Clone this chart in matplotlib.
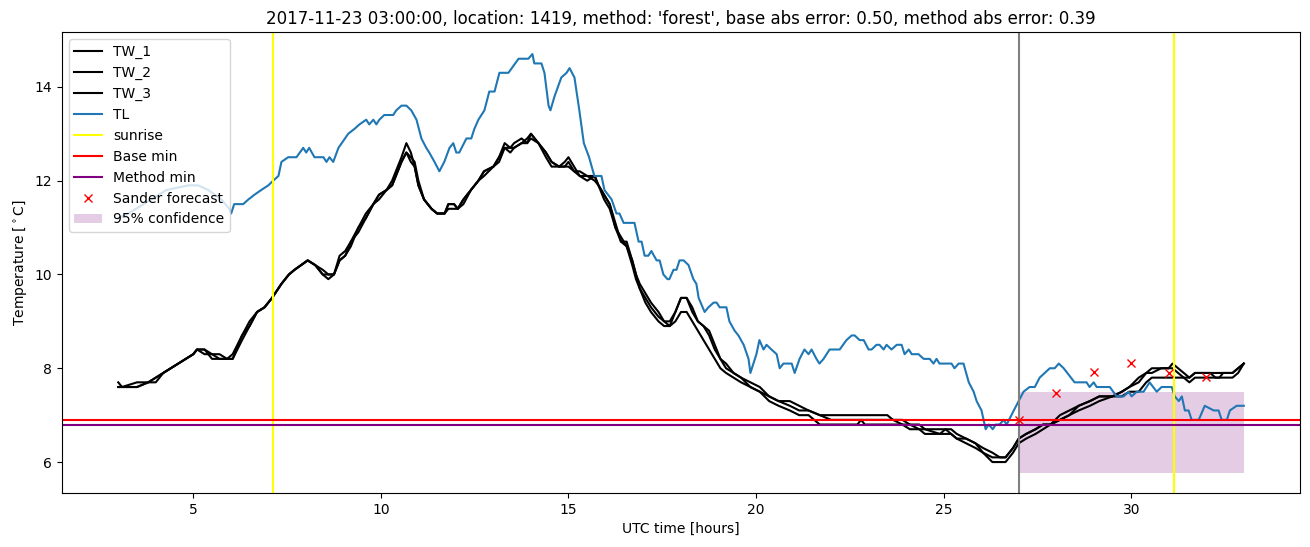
import numpy as np
import matplotlib
matplotlib.use("Agg")
import matplotlib.pyplot as plt

# TL (air temperature), (hours, degC)
tl_t = [3.0, 3.27, 3.88, 4.28, 4.87, 5.13, 5.4, 5.75, 5.96, 6.01, 6.09, 6.33, 6.47, 6.63,
        6.81, 7.0, 7.13, 7.27, 7.35, 7.53, 7.75, 7.93, 8.01, 8.09, 8.23, 8.47, 8.55, 8.63,
        8.73, 8.87, 9.13, 9.29, 9.43, 9.61, 9.69, 9.8, 9.88, 9.96, 10.09, 10.33, 10.41,
        10.55, 10.68, 10.81, 10.95, 11.08, 11.21, 11.29, 11.43, 11.56, 11.69, 11.83, 11.93,
        12.01, 12.09, 12.28, 12.41, 12.49, 12.6, 12.76, 12.89, 13.03, 13.16, 13.4, 13.67,
        13.93, 14.04, 14.09, 14.28, 14.36, 14.47, 14.52, 14.63, 14.81, 14.95, 15.03, 15.16,
        15.29, 15.41, 15.55, 15.69, 15.88, 15.96, 16.15, 16.28, 16.36, 16.47, 16.76, 16.87,
        16.95, 17.03, 17.13, 17.21, 17.35, 17.43, 17.53, 17.64, 17.69, 17.8, 17.88, 17.96,
        18.07, 18.2, 18.33, 18.41, 18.47, 18.63, 18.73, 18.87, 18.95, 19.03, 19.21, 19.29,
        19.43, 19.53, 19.67, 19.8, 19.85, 20.01, 20.09, 20.2, 20.28, 20.41, 20.55, 20.63,
        20.73, 20.95, 21.03, 21.16, 21.29, 21.4, 21.48, 21.61, 21.69, 21.8, 21.96, 22.23,
        22.41, 22.55, 22.63, 22.76, 22.87, 23.0, 23.08, 23.21, 23.29, 23.4, 23.48, 23.61,
        23.75, 23.88, 23.96, 24.07, 24.15, 24.33, 24.47, 24.63, 24.73, 24.81, 24.89, 25.21,
        25.29, 25.4, 25.53, 25.67, 25.8, 25.88, 26.01, 26.12, 26.2, 26.31, 26.39, 26.49,
        26.6, 26.68, 26.87, 27.0, 27.13, 27.29, 27.43, 27.56, 27.83, 27.96, 28.07, 28.2,
        28.49, 28.81, 28.89, 29.0, 29.08, 29.43, 29.61, 29.8, 29.93, 30.01, 30.15, 30.33,
        30.49, 30.68, 30.81, 31.08, 31.16, 31.27, 31.35, 31.43, 31.53, 31.61, 31.8, 31.96,
        32.2, 32.33, 32.41, 32.55, 32.63, 32.81, 33.0]
tl_v = [11.2, 11.3, 11.6, 11.8, 11.9, 11.9, 11.8, 11.6, 11.4, 11.3, 11.5, 11.5, 11.6, 11.7,
        11.8, 11.9, 12.0, 12.1, 12.4, 12.5, 12.5, 12.7, 12.6, 12.7, 12.5, 12.5, 12.4, 12.5,
        12.4, 12.7, 13.0, 13.1, 13.2, 13.3, 13.2, 13.3, 13.2, 13.3, 13.4, 13.4, 13.5,
        13.6, 13.6, 13.5, 13.3, 12.9, 12.7, 12.6, 12.4, 12.2, 12.4, 12.7, 12.8,
        12.6, 12.6, 12.9, 12.9, 13.1, 13.3, 13.5, 13.9, 13.9, 14.3, 14.3, 14.6,
        14.6, 14.7, 14.5, 14.5, 14.3, 13.6, 13.5, 13.8, 14.2, 14.3, 14.4, 14.2,
        13.5, 12.8, 12.5, 12.1, 12.1, 11.8, 11.6, 11.3, 11.3, 11.1, 11.1, 10.7,
        10.7, 10.4, 10.4, 10.5, 10.3, 10.3, 10.0, 9.9, 9.9, 10.1, 10.1, 10.3,
        10.3, 10.2, 9.9, 9.8, 9.5, 9.2, 9.3, 9.4, 9.4, 9.3, 9.3, 9.0,
        8.8, 8.7, 8.5, 8.2, 7.9, 8.3, 8.6, 8.4, 8.5, 8.4, 8.3, 8.0,
        8.1, 8.1, 7.9, 8.2, 8.4, 8.3, 8.4, 8.2, 8.1, 8.2, 8.4, 8.4,
        8.6, 8.7, 8.7, 8.6, 8.6, 8.4, 8.4, 8.5, 8.5, 8.4, 8.5, 8.4,
        8.5, 8.5, 8.3, 8.4, 8.3, 8.3, 8.2, 8.2, 8.1, 8.2, 8.1, 8.1,
        8.0, 8.1, 8.1, 7.7, 7.5, 7.3, 7.1, 6.7, 6.8, 6.7, 6.8, 6.8,
        6.9, 6.8, 7.1, 7.3, 7.5, 7.6, 7.6, 7.8, 8.0, 8.0, 8.1, 8.0,
        7.7, 7.7, 7.6, 7.7, 7.6, 7.6, 7.4, 7.4, 7.5, 7.4, 7.5, 7.5,
        7.7, 7.5, 7.6, 7.6, 7.4, 7.3, 7.4, 7.1, 7.1, 6.9, 6.9, 7.2,
        7.1, 7.1, 6.9, 6.9, 7.1, 7.2, 7.2]

# TW_1..TW_3 (road sensors), shared time points
tw_t = [3.0, 3.1, 3.5, 3.8, 4.0, 4.2, 4.4, 4.6, 4.8, 5.0, 5.1, 5.3, 5.5, 5.7, 5.9, 6.05,
        6.3, 6.5, 6.7, 6.9, 7.1, 7.35, 7.55, 7.7, 8.05, 8.25, 8.45, 8.6, 8.75, 8.9, 9.05,
        9.2, 9.4, 9.6, 9.8, 9.95, 10.15, 10.3, 10.45, 10.55, 10.68, 10.8, 10.9, 11.0,
        11.15, 11.35, 11.5, 11.7, 11.8, 11.95, 12.05, 12.2, 12.4, 12.6, 12.75, 13.0,
        13.15, 13.3, 13.45, 13.55, 13.75, 13.9, 14.0, 14.2, 14.4, 14.55, 14.75, 14.9,
        15.0, 15.15, 15.3, 15.5, 15.7, 15.8, 15.95, 16.1, 16.25, 16.4, 16.55, 16.7, 16.8,
        16.9, 17.05, 17.2, 17.4, 17.55, 17.7, 17.85, 18.0, 18.15, 18.3, 18.45, 18.6,
        18.75, 18.9, 19.05, 19.2, 19.4, 19.6, 19.85, 20.1, 20.35, 20.6, 20.9, 21.15,
        21.4, 21.7, 22.0, 22.7, 22.8, 22.9, 23.5, 23.65, 23.9, 24.1, 24.35, 24.5, 24.9,
        25.05, 25.2, 25.35, 25.6, 25.85, 26.05, 26.3, 26.5, 26.65, 26.85, 27.0, 27.2,
        27.45, 27.65, 27.85, 28.1, 28.35, 28.6, 28.9, 29.15, 29.5, 29.75, 29.95, 30.2,
        30.4, 30.55, 30.8, 31.0, 31.1, 31.25, 31.4, 31.55, 31.7, 32.1, 32.25, 32.35,
        32.45, 32.7, 32.85, 33.0]
tw1_v = [7.7, 7.6, 7.6, 7.7, 7.8, 7.9, 8.0, 8.1, 8.2, 8.3, 8.4, 8.4, 8.3, 8.2, 8.2, 8.2,
         8.7, 9.0, 9.2, 9.3, 9.5, 9.8, 10.0, 10.1, 10.3, 10.2, 10.0, 10.0, 10.0, 10.4, 10.5,
         10.7, 11.0, 11.3, 11.5, 11.7, 11.8, 12.0, 12.3, 12.5, 12.8, 12.6, 12.3, 11.9,
         11.6, 11.4, 11.3, 11.3, 11.5, 11.5, 11.4, 11.6, 11.8, 12.0, 12.2, 12.3,
         12.5, 12.8, 12.7, 12.8, 12.9, 12.8, 13.0, 12.8, 12.6, 12.4, 12.3, 12.4,
         12.5, 12.3, 12.1, 12.1, 12.1, 11.9, 11.7, 11.5, 11.1, 10.7, 10.7, 10.3, 10.0,
         9.7, 9.5, 9.3, 9.1, 9.0, 9.0, 9.2, 9.5, 9.5, 9.3, 9.0, 8.9,
         8.8, 8.5, 8.2, 8.1, 7.9, 7.8, 7.7, 7.6, 7.4, 7.3, 7.3, 7.2,
         7.1, 7.0, 7.0, 7.0, 7.0, 7.0, 7.0, 6.9, 6.8, 6.8, 6.8, 6.7, 6.7,
         6.7, 6.7, 6.6, 6.5, 6.4, 6.3, 6.2, 6.1, 6.1, 6.3, 6.5, 6.6,
         6.7, 6.8, 6.8, 7.0, 7.1, 7.2, 7.3, 7.4, 7.4, 7.5, 7.6, 7.8,
         7.9, 8.0, 8.0, 8.0, 8.1, 8.0, 7.9, 7.8, 7.9, 7.9, 7.8, 7.8,
         7.9, 7.9, 8.0, 8.1]
tw2_v = [7.6, 7.6, 7.7, 7.7, 7.8, 7.9, 8.0, 8.1, 8.2, 8.3, 8.4, 8.3, 8.3, 8.3, 8.2, 8.3,
         8.7, 8.9, 9.2, 9.3, 9.5, 9.8, 10.0, 10.1, 10.3, 10.2, 10.1, 10.0, 10.0, 10.3, 10.4,
         10.7, 10.9, 11.2, 11.5, 11.6, 11.8, 11.9, 12.2, 12.4, 12.6, 12.5, 12.4, 12.0,
         11.6, 11.4, 11.3, 11.3, 11.4, 11.4, 11.4, 11.6, 11.8, 12.0, 12.2, 12.3,
         12.5, 12.7, 12.6, 12.7, 12.8, 12.9, 13.0, 12.8, 12.6, 12.4, 12.3, 12.3,
         12.4, 12.2, 12.2, 12.1, 12.0, 11.9, 11.7, 11.5, 11.0, 10.8, 10.6, 10.3, 10.0,
         9.8, 9.6, 9.4, 9.2, 9.0, 8.9, 9.2, 9.5, 9.5, 9.2, 9.0, 8.9,
         8.7, 8.4, 8.2, 8.0, 7.9, 7.8, 7.6, 7.5, 7.4, 7.3, 7.2, 7.1,
         7.1, 7.0, 6.9, 6.9, 6.9, 6.9, 6.9, 6.9, 6.9, 6.8, 6.7, 6.7, 6.6,
         6.7, 6.6, 6.5, 6.5, 6.4, 6.2, 6.1, 6.1, 6.1, 6.3, 6.5, 6.6,
         6.7, 6.8, 6.8, 6.9, 7.0, 7.2, 7.3, 7.4, 7.4, 7.5, 7.6, 7.7,
         7.9, 7.9, 8.0, 8.0, 8.0, 7.9, 7.8, 7.8, 7.9, 7.9, 7.9, 7.9,
         7.9, 7.9, 8.0, 8.1]
tw3_v = [7.6, 7.6, 7.6, 7.7, 7.7, 7.9, 8.0, 8.1, 8.2, 8.3, 8.4, 8.4, 8.2, 8.2, 8.2, 8.2,
         8.6, 8.9, 9.2, 9.3, 9.5, 9.8, 10.0, 10.1, 10.3, 10.2, 10.0, 9.9, 10.0, 10.3, 10.4,
         10.6, 11.0, 11.2, 11.5, 11.7, 11.8, 11.9, 12.2, 12.4, 12.6, 12.4, 12.3, 11.9,
         11.6, 11.4, 11.3, 11.3, 11.5, 11.5, 11.4, 11.5, 11.8, 12.0, 12.1, 12.3,
         12.4, 12.7, 12.7, 12.7, 12.8, 12.8, 12.9, 12.8, 12.5, 12.3, 12.3, 12.3,
         12.3, 12.2, 12.1, 12.0, 12.1, 11.9, 11.6, 11.4, 11.0, 10.7, 10.6, 10.2, 9.9,
         9.7, 9.4, 9.2, 9.0, 8.9, 8.9, 9.0, 9.2, 9.2, 9.0, 8.8, 8.6,
         8.4, 8.2, 8.0, 7.9, 7.8, 7.7, 7.6, 7.5, 7.3, 7.2, 7.1, 7.0,
         7.0, 6.8, 6.8, 6.8, 6.9, 6.8, 6.8, 6.8, 6.8, 6.7, 6.7, 6.6, 6.6,
         6.6, 6.6, 6.5, 6.4, 6.3, 6.2, 6.0, 6.0, 6.0, 6.2, 6.4, 6.5,
         6.6, 6.7, 6.8, 6.9, 7.0, 7.1, 7.2, 7.3, 7.4, 7.4, 7.5, 7.5,
         7.7, 7.8, 7.8, 7.8, 7.8, 7.8, 7.8, 7.7, 7.8, 7.8, 7.8, 7.8,
         7.8, 7.8, 7.9, 8.1]

sunrise = [7.12, 31.13]
forecast_time = 27.0
base_min = 6.9
method_min = 6.8

sander_t = [27, 28, 29, 30, 31, 32]
sander_v = [6.9, 7.47, 7.93, 8.11, 7.9, 7.82]
conf_t = [27, 33]
conf_lo = 5.77
conf_hi = 7.5

title = ("2017-11-23 03:00:00, location: 1419, method: 'forest', "
         "base abs error: 0.50, method abs error: 0.39")

fig, ax = plt.subplots(figsize=(13.1, 5.47), dpi=100)
fig.subplots_adjust(left=0.0473, right=0.9924, bottom=0.0987, top=0.9415)

ax.plot(tw_t, tw1_v, color='black', label='TW_1')
ax.plot(tw_t, tw2_v, color='black', label='TW_2')
ax.plot(tw_t, tw3_v, color='black', label='TW_3')
ax.plot(tl_t, tl_v, color='#1f77b4', label='TL')

for i, s in enumerate(sunrise):
    ax.axvline(s, color='yellow', label='sunrise' if i == 0 else None)
ax.axvline(forecast_time, color='gray')
ax.axhline(base_min, color='red', label='Base min')
ax.axhline(method_min, color='purple', label='Method min')
ax.plot(sander_t, sander_v, 'x', color='red', label='Sander forecast')
ax.fill_between(conf_t, conf_lo, conf_hi, color='purple', alpha=0.2,
                linewidth=0, label='95% confidence')

ax.set_xlim(1.5, 34.5)
ax.set_ylim(5.34, 15.17)
ax.set_title(title)
ax.set_xlabel('UTC time [hours]')
ax.set_ylabel(r'Temperature [$^\circ$C]')
ax.legend(loc='upper left')

fig.savefig('out.png', dpi=100)
